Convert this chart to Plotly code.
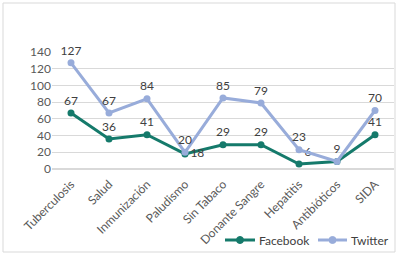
import plotly.graph_objects as go

categories = ["Tuberculosis", "Salud", "Inmunización", "Paludismo", "Sin Tabaco",
              "Donante Sangre", "Hepatitis", "Antibióticos", "SIDA"]
facebook = [67, 36, 41, 18, 29, 29, 6, 9, 41]
twitter = [127, 67, 84, 20, 85, 79, 23, 9, 70]
y_ticks = [0, 20, 40, 60, 80, 100, 120, 140]
series_names = ["Facebook", "Twitter"]
series_colors = ["#157a6b", "#98acda"]

fb_text = [str(v) for v in facebook]
fb_text[7] = ""
fb_pos = ["top center"] * 9
fb_pos[3] = "middle right"
fb_pos[6] = "top right"
tw_pos = ["top center"] * 9

W, H = 397, 255
L, R, T, B = 52, 3, 52, 86
pw = W - L - R
ph = H - T - B


def px(x):
    return (x - L) / pw


def py(y):
    return (H - B - y) / ph


FONT = "Lato, Carlito, sans-serif"

fig = go.Figure()
fig.add_trace(go.Scatter(
    x=categories, y=facebook, name=series_names[0], mode="lines+markers+text",
    line=dict(color=series_colors[0], width=3), marker=dict(size=7, color=series_colors[0]),
    text=fb_text, textposition=fb_pos,
    textfont=dict(size=12, color="#404040"), cliponaxis=False, showlegend=False))
fig.add_trace(go.Scatter(
    x=categories, y=twitter, name=series_names[1], mode="lines+markers+text",
    line=dict(color=series_colors[1], width=3), marker=dict(size=7, color=series_colors[1]),
    text=[str(v) for v in twitter], textposition=tw_pos,
    textfont=dict(size=12, color="#404040"), cliponaxis=False, showlegend=False))

# outer chart border
fig.add_shape(type="rect", xref="paper", yref="paper",
              x0=px(3), x1=px(395), y0=py(252), y1=py(3),
              line=dict(color="#d9d9d9", width=1))

# manual legend
legend_x = [(225, 255, 257), (318, 347, 349)]
ly = 240
for (x0, x1, xt), name, col in zip(legend_x, series_names, series_colors):
    fig.add_shape(type="line", xref="paper", yref="paper",
                  x0=px(x0), x1=px(x1), y0=py(ly), y1=py(ly),
                  line=dict(color=col, width=3))
    xc = (x0 + x1) / 2
    fig.add_shape(type="circle", xref="paper", yref="paper",
                  x0=px(xc - 3.5), x1=px(xc + 3.5), y0=py(ly + 3.5), y1=py(ly - 3.5),
                  line=dict(color=col, width=1), fillcolor=col)
    fig.add_annotation(xref="paper", yref="paper", x=px(xt), y=py(ly),
                       xanchor="left", yanchor="middle", showarrow=False,
                       text=name, font=dict(size=12, color="#404040", family=FONT))

fig.update_layout(
    width=W, height=H, margin=dict(l=L, r=R, t=T, b=B, autoexpand=False),
    paper_bgcolor="white", plot_bgcolor="white",
    font=dict(family=FONT, size=12, color="#595959"),
    showlegend=False,
    xaxis=dict(range=[-0.5, 8.5], tickangle=-45, showgrid=False, showline=False,
               ticks="", automargin=False, ticklabelstandoff=5,
               tickfont=dict(size=12, color="#595959")),
    yaxis=dict(range=[0, 140], tickvals=y_ticks, showgrid=True, gridcolor="#d9d9d9",
               zeroline=True, zerolinecolor="#d9d9d9", showline=False, ticks="",
               automargin=False, tickfont=dict(size=12, color="#595959")),
)

fig.write_html("out.html", config={"displayModeBar": False},
               post_script="document.body.style.margin='0px';")
